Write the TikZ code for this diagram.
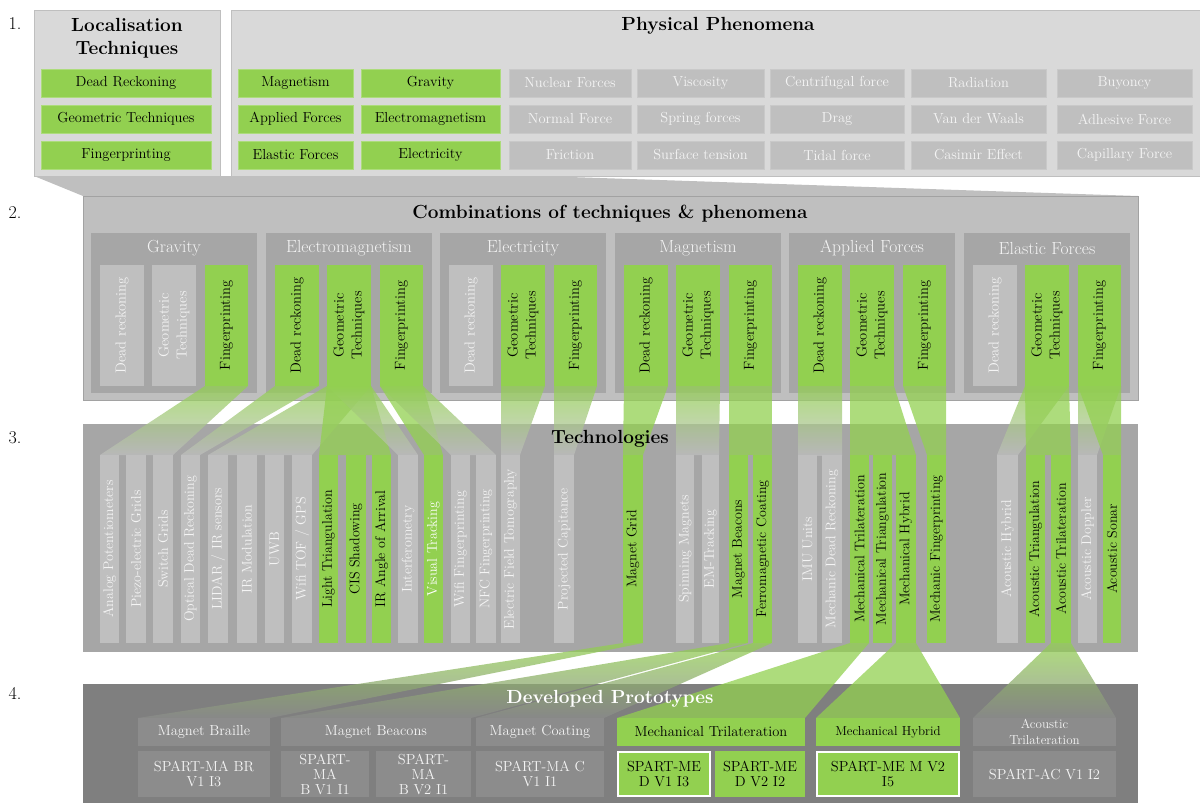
\documentclass[tikz,border=0pt]{standalone}
\usepackage{fontspec}
\pgfdeclarelayer{back}\pgfdeclarelayer{bg}\pgfdeclarelayer{bands}
\pgfsetlayers{back,bg,bands,main}
\definecolor{lgreen}{HTML}{92D050}
\definecolor{pI}{HTML}{D9D9D9}
\definecolor{barg}{HTML}{BFBFBF}
\definecolor{subg}{HTML}{A6A6A6}
\definecolor{pIV}{HTML}{7F7F7F}
\definecolor{boxIV}{HTML}{8C8C8C}
\definecolor{txtw}{HTML}{F4F4F4}
\newcommand\fsBox{\fontsize{14.5}{17}\selectfont}
\newcommand\fsTitle{\fontsize{19}{23}\selectfont\bfseries}
\newcommand\fsSub{\fontsize{17.5}{20}\selectfont}
\newcommand\fsBarII{\fontsize{14.5}{18}\selectfont}
\newcommand\fsBarIII{\fontsize{14}{15}\selectfont}
\newcommand\fsHead{\fontsize{14.5}{16}\selectfont}
\newcommand\fsHeadS{\fontsize{13}{15.5}\selectfont}
\newcommand\fsProto{\fontsize{14.5}{15}\selectfont}
\newcommand\fsNum{\fontsize{18}{20}\selectfont}
\newcommand\rbox[7]{\node[#6, minimum width={#4-#2}, minimum height={#5-#3}, anchor=north west] (#1) at (#2,#3) {#7};}
\newcommand\cbar[5]{\rbox{#1}{#2}{265}{#3}{386}{#4}{}\node[#4txt, rotate=90, font=\fsBarII, align=center] (#1l) at (#1.center) {#5};}
\newcommand\tbar[5]{\rbox{#1}{#2}{455}{#3}{643}{#4}{}\node[#4txt, rotate=90, font=\fsBarIII] (#1l) at (#1.center) {#5};}
\newcommand\band[4]{\path[#4] (#1.south west) -- (#1.south east) -- (#3.north east) -- (#2.north west) -- cycle;}
\tikzset{
 every node/.style={inner sep=0pt, outer sep=0pt},
 panelI/.style={fill=pI, draw=barg, line width=1pt},
 gbox/.style={fill=lgreen, draw=lgreen!75!white, line width=.8pt, font=\fsBox, text=black},
 ybox/.style={fill=barg, draw=barg!85!white, line width=.8pt, font=\fsBox, text=txtw},
 panelII/.style={fill=barg, draw=barg!85!black, line width=.6pt},
 subII/.style={fill=subg},
 gb/.style={fill=lgreen}, gbtxt/.style={text=black},
 yb/.style={fill=barg}, ybtxt/.style={text=txtw},
 gw/.style={fill=lgreen}, gwtxt/.style={text=white},
 panelIII/.style={fill=subg},
 panelIV/.style={fill=pIV},
 hbox/.style={fill=boxIV, text=txtw, font=\fsHead, align=center},
 hgbox/.style={fill=lgreen, text=black, font=\fsHead, align=center},
 pbox/.style={fill=boxIV, text=txtw, font=\fsProto, align=center},
 pgbox/.style={fill=lgreen, text=black, font=\fsProto, align=center},
 pgwbox/.style={pgbox, draw=white, line width=1.5pt},
 gband/.style={fill=lgreen, fill opacity=.75},
 xband/.style={top color=lgreen, bottom color=barg, fill opacity=.75},
 xbandIV/.style={top color=lgreen, bottom color=boxIV, fill opacity=.75},
 numlbl/.style={font=\fsNum},
 ttl/.style={font=\fsTitle, align=center},
}
\begin{document}
\begin{tikzpicture}[x=1pt,y=-1pt]
\useasboundingbox (0,0) rectangle (1200,803);
% ---------- panels ----------
\begin{pgfonlayer}{bg}
\rbox{pLoc}{34}{10}{220}{176}{panelI}{}
\rbox{pPhy}{231}{10}{1200}{176}{panelI}{}
\rbox{pII}{83}{196}{1138}{400}{panelII}{}
\rbox{spG}{91}{233}{257}{393}{subII}{}
\rbox{spE}{266}{233}{432}{393}{subII}{}
\rbox{spC}{440}{233}{606}{393}{subII}{}
\rbox{spM}{615}{233}{781}{393}{subII}{}
\rbox{spA}{789}{233}{955}{393}{subII}{}
\rbox{spL}{964}{233}{1130}{393}{subII}{}
\rbox{pIII}{83}{424}{1138}{652}{panelIII}{}
\rbox{pIV}{83}{684}{1138}{803}{panelIV}{}
\end{pgfonlayer}
\coordinate (fk) at (540,176);
\begin{pgfonlayer}{back}
\fill[barg] (pLoc.south west) -- (fk) -- (pII.north east) -- (pII.north west) -- cycle;
\end{pgfonlayer}
% ---------- numbers ----------
\node[numlbl] (n1) at (15,24) {1.};
\node[numlbl] (n2) at (15,213) {2.};
\node[numlbl] (n3) at (15,438) {3.};
\node[numlbl] (n4) at (15,693) {4.};
% ---------- layer 1 ----------
\node[ttl] (tLoc) at (127,38) {Localisation\\Techniques};
\node[ttl] (tPhy) at (718,26) {Physical Phenomena};
\rbox{locDR}{41}{69}{211}{97}{gbox}{Dead Reckoning}
\rbox{locGT}{41}{105}{211}{133}{gbox}{Geometric Techniques}
\rbox{locFP}{41}{141}{211}{169}{gbox}{Fingerprinting}
\rbox{ph11}{238}{69}{353}{97}{gbox}{Magnetism}
\rbox{ph12}{238}{105}{353}{133}{gbox}{Applied Forces}
\rbox{ph13}{238}{141}{353}{169}{gbox}{Elastic Forces}
\rbox{ph21}{361}{69}{500}{97}{gbox}{Gravity}
\rbox{ph22}{361}{105}{500}{133}{gbox}{Electromagnetism}
\rbox{ph23}{361}{141}{500}{169}{gbox}{Electricity}
\rbox{ph31}{509}{69}{631}{97}{ybox}{Nuclear Forces}
\rbox{ph32}{509}{105}{631}{133}{ybox}{Normal Force}
\rbox{ph33}{509}{141}{631}{169}{ybox}{Friction}
\rbox{ph41}{637}{69}{764}{97}{ybox}{Viscosity}
\rbox{ph42}{637}{105}{764}{133}{ybox}{Spring forces}
\rbox{ph43}{637}{141}{764}{169}{ybox}{Surface tension}
\rbox{ph51}{770}{69}{904}{97}{ybox}{Centrifugal force}
\rbox{ph52}{770}{105}{904}{133}{ybox}{Drag}
\rbox{ph53}{770}{141}{904}{169}{ybox}{Tidal force}
\rbox{ph61}{911}{69}{1046}{97}{ybox}{Radiation}
\rbox{ph62}{911}{105}{1046}{133}{ybox}{Van der Waals}
\rbox{ph63}{911}{141}{1046}{169}{ybox}{Casimir Effect}
\rbox{ph71}{1057}{69}{1192}{97}{ybox}{Buyoncy}
\rbox{ph72}{1057}{105}{1192}{133}{ybox}{Adhesive Force}
\rbox{ph73}{1057}{141}{1192}{169}{ybox}{Capillary Force}
% ---------- layer 2 ----------
\node[ttl] (tII) at (610,214) {Combinations of techniques \& phenomena};
\node[font=\fsSub, text=txtw] (stG) at ([yshift=-15pt]spG.north) {Gravity};
\node[font=\fsSub, text=txtw] (stE) at ([yshift=-15pt]spE.north) {Electromagnetism};
\node[font=\fsSub, text=txtw] (stC) at ([yshift=-15pt]spC.north) {Electricity};
\node[font=\fsSub, text=txtw] (stM) at ([yshift=-15pt]spM.north) {Magnetism};
\node[font=\fsSub, text=txtw] (stA) at ([yshift=-15pt]spA.north) {Applied Forces};
\node[font=\fsSub, text=txtw] (stL) at ([yshift=-15pt]spL.north) {Elastic Forces};
\cbar{gDR}{100}{144}{yb}{Dead reckoning}
\cbar{gGT}{152}{196}{yb}{Geometric\\Techniques}
\cbar{gFP}{205}{248}{gb}{Fingerprinting}
\cbar{eDR}{275}{319}{gb}{Dead reckoning}
\cbar{eGT}{327}{371}{gb}{Geometric\\Techniques}
\cbar{eFP}{380}{423}{gb}{Fingerprinting}
\cbar{cDR}{449}{493}{yb}{Dead reckoning}
\cbar{cGT}{501}{545}{gb}{Geometric\\Techniques}
\cbar{cFP}{554}{597}{gb}{Fingerprinting}
\cbar{mDR}{624}{668}{gb}{Dead reckoning}
\cbar{mGT}{676}{720}{gb}{Geometric\\Techniques}
\cbar{mFP}{729}{772}{gb}{Fingerprinting}
\cbar{aDR}{798}{842}{gb}{Dead reckoning}
\cbar{aGT}{850}{894}{gb}{Geometric\\Techniques}
\cbar{aFP}{903}{946}{gb}{Fingerprinting}
\cbar{lDR}{973}{1017}{yb}{Dead reckoning}
\cbar{lGT}{1025}{1069}{gb}{Geometric\\Techniques}
\cbar{lFP}{1078}{1121}{gb}{Fingerprinting}
% ---------- layer 3 ----------
\node[ttl] (tIII) at (610,439) {Technologies};
\tbar{t1}{100}{119}{yb}{Analog Potentiometers}
\tbar{t2}{126}{146}{yb}{Piezo-electric Grids}
\tbar{t3}{153}{173}{yb}{Switch Grids}
\tbar{t4}{181}{200}{yb}{Optical Dead Reckoning}
\tbar{t5}{208}{228}{yb}{LIDAR / IR sensors}
\tbar{t6}{237}{257}{yb}{IR Modulation}
\tbar{t7}{265}{284}{yb}{UWB}
\tbar{t8}{292}{312}{yb}{Wifi TOF / GPS}
\tbar{t9}{319}{338}{gb}{Light Triangulation}
\tbar{t10}{346}{366}{gb}{CIS Shadowing}
\tbar{t11}{372}{391}{gb}{IR Angle of Arrival}
\tbar{t12}{398}{418}{yb}{Interferometry}
\tbar{t13}{424}{443}{gw}{Visual Tracking}
\tbar{t14}{451}{470}{yb}{Wifi Fingerprinting}
\tbar{t15}{476}{496}{yb}{NFC Fingerprinting}
\tbar{t16}{501}{520}{yb}{Electric Field Tomography}
\tbar{t17}{554}{574}{yb}{Projected Capitance}
\tbar{t18}{623}{643}{gb}{Magnet Grid}
\tbar{t19}{676}{694}{yb}{Spinning Magnets}
\tbar{t20}{702}{719}{yb}{EM-Tracking}
\tbar{t21}{729}{748}{gb}{Magnet Beacons}
\tbar{t22}{753}{772}{gb}{Ferromagnetic Coating}
\tbar{t23}{798}{817}{yb}{IMU Units}
\tbar{t24}{822}{842}{yb}{Mechanic Dead Reckoning}
\tbar{t25}{850}{869}{gb}{Mechanical Trilateration}
\tbar{t26}{873}{892}{gb}{Mechanical Triangulation}
\tbar{t27}{896}{916}{gb}{Mechanical Hybrid}
\tbar{t28}{927}{946}{gb}{Mechanic Fingerprinting}
\tbar{t29}{997}{1018}{yb}{Acoustic Hybrid}
\tbar{t30}{1026}{1045}{gb}{Acoustic Triangulation}
\tbar{t31}{1051}{1071}{gb}{Acoustic Trilateration}
\tbar{t32}{1078}{1097}{yb}{Acoustic Doppler}
\tbar{t33}{1103}{1121}{gb}{Acoustic Sonar}
% ---------- layer 4 ----------
\node[ttl, text=white] (tIV) at (610,699) {Developed Prototypes};
\rbox{hMB}{138}{718}{270}{746}{hbox}{Magnet Braille}
\rbox{hMBe}{281}{718}{471}{746}{hbox}{Magnet Beacons}
\rbox{hMC}{476}{718}{604}{746}{hbox}{Magnet Coating}
\rbox{hMT}{617}{718}{805}{746}{hgbox}{Mechanical Trilateration}
\rbox{hMH}{816}{718}{960}{746}{hgbox, font=\fsHeadS}{Mechanical Hybrid}
\rbox{hAT}{973}{718}{1116}{746}{hbox, font=\fsHeadS}{Acoustic\\Trilateration}
\rbox{sMB}{138}{751}{270}{797}{pbox}{SPART-MA BR\\V1 I3}
\rbox{sMB1}{281}{751}{369}{797}{pbox}{SPART-\\MA\\B V1 I1}
\rbox{sMB2}{376}{751}{471}{797}{pbox}{SPART-\\MA\\B V2 I1}
\rbox{sMC}{476}{751}{604}{797}{pbox}{SPART-MA C\\V1 I1}
\rbox{sMT1}{618}{752}{710}{796}{pgwbox}{SPART-ME\\D V1 I3}
\rbox{sMT2}{715}{751}{805}{797}{pgbox}{SPART-ME\\D V2 I2}
\rbox{sMH}{817}{752}{959}{796}{pgwbox}{SPART-ME M V2\\I5}
\rbox{sAT}{973}{751}{1116}{797}{pbox}{SPART-AC V1 I2}
% ---------- bands ----------
\begin{pgfonlayer}{bands}
\band{gFP}{t1}{t3}{xband}
\band{eDR}{t4}{t4}{xband}
\band{eGT}{t5}{t8}{xband}
\band{eGT}{t9}{t11}{gband}
\band{eGT}{t12}{t12}{xband}
\band{eFP}{t13}{t13}{gband}
\band{eFP}{t14}{t15}{xband}
\band{cGT}{t16}{t16}{xband}
\band{cFP}{t17}{t17}{xband}
\band{mDR}{t18}{t18}{gband}
\band{mGT}{t19}{t20}{xband}
\band{mFP}{t21}{t22}{gband}
\band{aDR}{t23}{t24}{xband}
\band{aGT}{t25}{t27}{gband}
\band{aFP}{t28}{t28}{gband}
\band{lGT}{t29}{t29}{xband}
\band{lGT}{t30}{t31}{gband}
\band{lFP}{t32}{t32}{xband}
\band{lFP}{t33}{t33}{gband}
\band{t18}{hMB}{hMB}{xbandIV}
\band{t21}{hMBe}{hMBe}{xbandIV}
\band{t22}{hMC}{hMC}{xbandIV}
\band{t25}{hMT}{hMT}{gband}
\band{t27}{hMH}{hMH}{gband}
\band{t31}{hAT}{hAT}{xbandIV}
\end{pgfonlayer}
\end{tikzpicture}
\end{document}
